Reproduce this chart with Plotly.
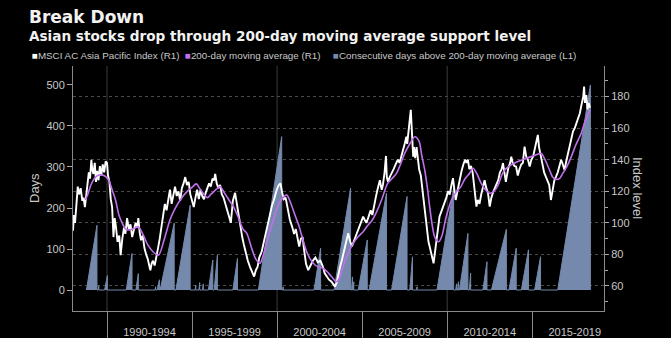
import plotly.graph_objects as go

# ---------------- data ----------------
IDX_YEAR = [1988.00,1988.05,1988.12,1988.20,1988.28,1988.36,1988.45,1988.55,1988.62,1988.70,1988.78,1988.85,1988.93,1989.00,1989.08,1989.13,1989.20,1989.28,1989.35,1989.42,1989.50,1989.58,1989.66,1989.75,1989.83,1989.92,
            1990.00,1990.06,1990.14,1990.22,1990.30,1990.38,1990.45,1990.52,1990.62,1990.72,1990.80,1990.90,1991.00,1991.08,1991.18,1991.28,1991.38,1991.48,1991.58,1991.68,1991.78,1991.84,1991.92,
            1992.00,1992.10,1992.20,1992.30,1992.40,1992.50,1992.55,1992.62,1992.70,1992.80,1992.90,1993.00,1993.10,1993.20,1993.30,1993.40,1993.50,1993.60,1993.70,1993.80,1993.90,
            1994.00,1994.10,1994.20,1994.30,1994.40,1994.50,1994.60,1994.70,1994.80,1994.90,1995.00,1995.10,1995.20,1995.30,1995.40,1995.50,1995.60,1995.70,1995.80,1995.90,
            1996.00,1996.10,1996.20,1996.30,1996.36,1996.45,1996.55,1996.65,1996.75,1996.85,1996.95,1997.05,1997.15,1997.28,1997.40,1997.53,1997.62,1997.72,1997.82,1997.95,
            1998.05,1998.15,1998.28,1998.41,1998.55,1998.65,1998.75,1998.85,1998.95,1999.10,1999.20,1999.30,1999.40,1999.50,1999.60,1999.70,1999.80,1999.90,1999.98,
            2000.10,2000.20,2000.30,2000.40,2000.50,2000.60,2000.75,2000.90,2001.00,2001.10,2001.20,2001.30,2001.40,2001.50,2001.60,2001.70,2001.83,2001.95,
            2002.10,2002.25,2002.40,2002.55,2002.70,2002.80,2002.91,2003.05,2003.20,2003.30,2003.40,2003.50,2003.60,2003.70,2003.80,2003.90,
            2004.05,2004.18,2004.30,2004.40,2004.50,2004.60,2004.72,2004.85,2004.95,2005.06,2005.15,2005.25,2005.35,2005.50,2005.60,2005.70,2005.80,2005.90,
            2006.04,2006.15,2006.22,2006.32,2006.40,2006.45,2006.52,2006.62,2006.72,2006.85,2007.00,2007.10,2007.20,2007.30,2007.40,2007.50,2007.60,2007.65,2007.75,2007.86,2007.92,
            2008.00,2008.05,2008.12,2008.20,2008.28,2008.35,2008.45,2008.55,2008.62,2008.70,2008.80,2008.90,2008.97,2009.05,2009.12,2009.20,2009.28,2009.38,2009.45,2009.55,2009.65,2009.75,2009.85,2009.95,
            2010.05,2010.15,2010.25,2010.34,2010.42,2010.50,2010.60,2010.72,2010.85,2010.95,2011.05,2011.13,2011.22,2011.30,2011.40,2011.50,2011.58,2011.65,2011.72,2011.80,2011.90,
            2012.00,2012.10,2012.20,2012.30,2012.40,2012.50,2012.60,2012.72,2012.85,2013.00,2013.10,2013.20,2013.28,2013.35,2013.45,2013.50,2013.60,2013.70,2013.77,2013.85,2013.95,
            2014.05,2014.15,2014.25,2014.35,2014.45,2014.55,2014.65,2014.75,2014.85,2014.95,2015.05,2015.15,2015.25,2015.33,2015.40,2015.50,2015.60,2015.70,2015.80,2015.90,
            2016.00,2016.10,2016.20,2016.30,2016.40,2016.50,2016.60,2016.70,2016.80,2016.90,2017.00,2017.10,2017.20,2017.30,2017.40,2017.50,2017.60,2017.70,2017.80,2017.90,
            2018.00,2018.05,2018.10,2018.18,2018.25,2018.32,2018.40]
IDX_VALUE = [95,105,100,115,123,118,122,114,116,110,118,125,132,128,140,134,131,138,126,133,127,136,130,137,132,139,
             138,130,126,115,110,91,103,98,88,92,79.6,90,97,93,103,96,99,91,95,100,97,103,94,
             89,92,84,80,77,72,70,74,76,73,80,84,90,98,106,112,108,116,121,112,118,
             123,117,120,114,122,125,129,124,126,118,113,110,116,121,115,121,117,115,119,122,
             125,123,128,127,131,125,122,124,118,116,112,108,104,100,114,119,113,106,98,91,
             86,81,76,72,68,66,70,72,78,82,87,92,96,101,106,111,114,118,121,
             124,125,119,115,116,111,102,97,93,96,89,85,90,91,82,74,70,73,
             76,78,75,76,72,68,66,64,62.7,61,59.6,62,68,72,76,80.7,
             88,93.4,88,85,88,91,94,98,101,104,102,100,103,108,105,112,116,121,
             127,121,124,132,142.4,129,126,129,131,134,137.8,140,138,143,146,150,154.6,150,162,171.6,159,
             142,148,141,148,142,134,130,120,112,104,96,88,85,82,78,74.4,81,89,97.6,104,107,110,112.4,116,
             120,118,124,128.3,121,114.5,120,127,133,137,140,138,140,134,136,131.6,124,115,110.3,114.5,112,
             118,123,127,122,118.8,110.3,116,120,123,127,132,134,137.8,132,126,129.3,135,138,142,138,136,
             135.7,130,134,137,138,148.3,142,140,135.7,140,142,147,150,155.7,148,142,136,132,129.3,127,
             124,114.5,121,127,129.3,132,136,140,137,133.5,139,144,150,154.6,158,160,163,166,169.5,175,
             180,186.4,176,181,172,176,173]

MA_YEAR = [1988.73,1988.90,1989.05,1989.25,1989.45,1989.70,1989.90,1990.10,1990.30,1990.50,1990.70,1990.90,1991.10,1991.35,1991.60,1991.84,
           1992.10,1992.40,1992.70,1993.03,1993.35,1993.70,1994.00,1994.30,1994.70,1995.00,1995.25,1995.50,1995.90,
           1996.10,1996.40,1996.65,1996.90,1997.20,1997.43,1997.70,1998.00,1998.22,1998.50,1998.75,1999.00,1999.20,1999.45,1999.78,
           2000.10,2000.35,2000.57,2000.80,2001.05,2001.30,2001.50,2001.70,2001.95,2002.23,2002.45,2002.70,2002.95,2003.20,2003.50,2003.70,2003.87,
           2004.15,2004.47,2004.75,2005.06,2005.30,2005.60,2005.85,2006.14,2006.50,2006.75,2007.02,2007.25,2007.50,2007.80,
           2008.10,2008.35,2008.50,2008.68,2008.85,2008.97,2009.10,2009.27,2009.50,2009.70,2009.90,
           2010.05,2010.25,2010.55,2010.80,2011.05,2011.32,2011.52,2011.75,2012.00,2012.25,2012.50,2012.75,
           2013.00,2013.20,2013.38,2013.65,2013.95,2014.30,2014.65,2015.10,2015.53,2015.75,
           2016.00,2016.20,2016.40,2016.60,2016.80,2017.05,2017.30,2017.55,2017.88,2018.10,2018.40]
MA_VALUE = [114.5,119,124,128,130,130.4,129.5,127,121,114.5,105,99.7,96,95.5,96.5,97.6,
            93,86,81.7,79.6,89,101.8,109,114.5,119.8,122.5,124.7,121,116,
            118,121,123,119,114,110.3,104,96,93.4,84,77,74.4,80,90,101.8,
            112,116,117.7,112.6,105,97.6,90,82.8,77,73.3,72,71.2,69,66,62.7,66,72,
            80,87,91,94.4,98,101.8,107,114.5,125,128,131.4,137,144,150,
            154.6,151.6,143,133.5,121,110.3,100,91,88,92,102,
            108,114.5,119.8,122.8,128,131.4,134.6,131,125,121,118.8,120,
            124,130,133.5,136,137.8,139.5,141,142.5,144,140,
            134,129,127.6,128,131.4,136,142,149,156.8,164,171.6]

# consecutive-day streaks: start year, end year, days at end of streak
SPIKE_START = [1988.79,1989.47,1989.86,1991.13,1991.70,1992.82,1992.95,1993.12,1994.05,1995.18,1995.40,1995.62,1995.96,1996.30,1997.40,
               1998.90,2000.33,2002.17,2003.35,2004.38,2004.47,2004.77,2005.41,2006.73,2007.80,2008.20,2009.40,2010.50,2010.62,2010.72,
               2011.30,2012.10,2012.60,2013.63,2014.36,2015.14,2016.50]
SPIKE_END = [1989.41,1989.52,1990.02,1991.47,1991.84,1992.86,1993.08,1993.95,1994.89,1995.22,1995.45,1995.66,1996.22,1996.49,1997.67,
             2000.27,2000.36,2002.56,2004.32,2004.43,2004.51,2005.30,2006.43,2007.64,2007.96,2008.23,2010.38,2010.55,2010.66,2011.22,
             2011.38,2012.34,2013.48,2014.06,2014.78,2015.49,2018.42]
SPIKE_PEAK = [158,10,35,89,40,8,25,163,207,12,18,15,73,85,77,
              374,8,102,248,32,20,122,236,228,81,8,248,15,20,138,
              41,69,148,102,98,81,500]

PERIOD_EDGES = [1990, 1995, 2000, 2005, 2010, 2015]
PERIOD_MIDS = [1992.5, 1997.5, 2002.5, 2007.5, 2012.5, 2017.5]
PERIOD_LABELS = ["1990-1994", "1995-1999", "2000-2004", "2005-2009", "2010-2014", "2015-2019"]
DECADE_GRID = [1990, 2000, 2010]

DAYS_TICKS = [0, 100, 200, 300, 400, 500]
INDEX_TICKS = [60, 80, 100, 120, 140, 160, 180]

# ---------------- style ----------------
WHITE = "#ffffff"
PURPLE = "#c070ea"
BLUE = "#7489ab"
TXT = "#c8c8c8"
AX = "#8a8a8a"
FONT = "Liberation Sans, Arial, sans-serif"

W, H = 671, 338
ML, MR, MT, MB = 73, 67, 66, 27
PW, PH = W - ML - MR, H - MT - MB


def px(xp):
    return (xp - ML) / PW


def py(yp):
    return (H - MB - yp) / PH


area_x, area_y = [], []
for s, e, p in zip(SPIKE_START, SPIKE_END, SPIKE_PEAK):
    area_x += [s, e, e]
    area_y += [0, p, 0]

fig = go.Figure()
fig.add_trace(go.Scatter(x=area_x, y=area_y, mode="lines", fill="tozeroy",
                         fillcolor=BLUE, line=dict(color=BLUE, width=1),
                         yaxis="y", showlegend=False, hoverinfo="skip"))
fig.add_trace(go.Scatter(x=IDX_YEAR, y=IDX_VALUE, mode="lines",
                         line=dict(color=WHITE, width=1.9), yaxis="y2",
                         showlegend=False))
fig.add_trace(go.Scatter(x=MA_YEAR, y=MA_VALUE, mode="lines",
                         line=dict(color=PURPLE, width=1.6, shape="spline", smoothing=0.8),
                         yaxis="y2", showlegend=False))

shapes = []
for d in DECADE_GRID:
    shapes.append(dict(type="line", xref="x", yref="paper", x0=d, x1=d, y0=0, y1=1,
                       line=dict(color="#3c3c3c", width=1), layer="below"))

annotations = [
    dict(text="<b>Break Down</b>", x=px(27), y=py(17), xref="paper", yref="paper",
         xanchor="left", yanchor="middle", showarrow=False,
         font=dict(family="DejaVu Sans", size=17, color="#f2f2f2")),
    dict(text="<b>Asian stocks drop through 200-day moving average support level</b>",
         x=px(27), y=py(35.5), xref="paper", yref="paper", xanchor="left", yanchor="middle",
         showarrow=False, font=dict(family="DejaVu Sans", size=13.6, color="#f2f2f2")),
    dict(text="Days", x=px(34), y=py(188), xref="paper", yref="paper", textangle=-90,
         xanchor="center", yanchor="middle", showarrow=False,
         font=dict(family=FONT, size=13, color=TXT)),
    dict(text="Index level", x=px(638), y=py(188), xref="paper", yref="paper", textangle=90,
         xanchor="center", yanchor="middle", showarrow=False,
         font=dict(family=FONT, size=13, color=TXT)),
]

LEGEND_ITEMS = [("MSCI AC Asia Pacific Index (R1)", WHITE, 30),
                ("200-day moving average (R1)", PURPLE, 183),
                ("Consecutive days above 200-day moving average (L1)", BLUE, 331)]
for label, col, x0 in LEGEND_ITEMS:
    annotations.append(dict(
        text=f"<span style='color:{col}'>■</span>{label}",
        x=px(x0), y=py(56), xref="paper", yref="paper", xanchor="left", yanchor="middle",
        showarrow=False, font=dict(family=FONT, size=9.8, color=TXT)))

fig.update_layout(
    width=W, height=H,
    margin=dict(l=ML, r=MR, t=MT, b=MB, pad=0, autoexpand=False),
    paper_bgcolor="#000000", plot_bgcolor="#000000",
    showlegend=False,
    shapes=shapes, annotations=annotations,
    xaxis=dict(range=[1988.0, 2019.22], showgrid=False, zeroline=False, automargin=False,
               showline=True, linecolor=AX, linewidth=1,
               tickmode="array", tickvals=PERIOD_MIDS, ticktext=PERIOD_LABELS,
               ticks="outside", ticklen=11, tickcolor="rgba(0,0,0,0)",
               tickfont=dict(family=FONT, size=11, color=TXT),
               minor=dict(tickmode="array", tickvals=PERIOD_EDGES, ticks="outside",
                          ticklen=27, tickcolor=AX, tickwidth=1, showgrid=False)),
    yaxis=dict(range=[-51.2, 546.3], tickmode="array", tickvals=DAYS_TICKS, automargin=False,
               showgrid=False, zeroline=False, showline=True, linecolor=AX,
               ticks="outside", ticklen=5, tickcolor="#aaaaaa",
               tickfont=dict(family=FONT, size=11, color=TXT)),
    yaxis2=dict(range=[44.15, 199.4], overlaying="y", side="right", automargin=False,
                tickmode="array", tickvals=INDEX_TICKS,
                showgrid=True, gridcolor="#4a4a4a", griddash="dot", gridwidth=1,
                zeroline=False, showline=True, linecolor=AX,
                ticks="outside", ticklen=4, tickcolor="#aaaaaa",
                tickfont=dict(family=FONT, size=11, color=TXT),
                minor=dict(dtick=10, ticks="outside", ticklen=3, tickcolor="#aaaaaa", showgrid=False)),
)

fig.write_html("out.html")
